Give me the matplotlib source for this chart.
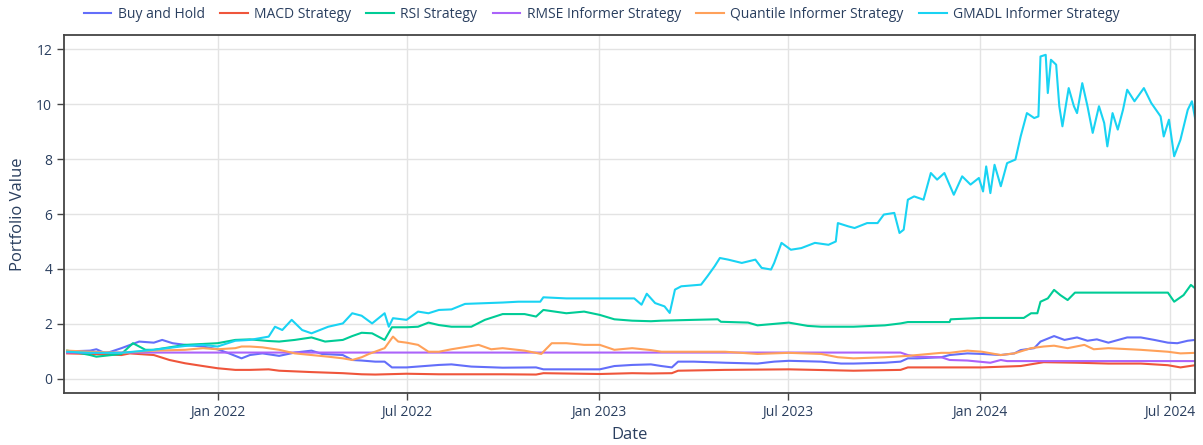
import numpy as np
import pandas as pd
import matplotlib
matplotlib.use('Agg')
import matplotlib.pyplot as plt
import matplotlib.dates as mdates

plt.rcParams['font.family'] = ['Open Sans', 'DejaVu Sans']

# values
bh_dates = ['2021-08-10', '2021-09-01', '2021-09-07', '2021-09-16', '2021-10-01', '2021-10-18', '2021-11-01',
            '2021-11-09', '2021-11-19', '2021-12-01', '2021-12-18', '2022-01-01', '2022-01-12', '2022-01-24',
            '2022-02-01', '2022-02-13', '2022-03-01', '2022-03-16', '2022-04-01', '2022-04-11', '2022-05-01',
            '2022-05-10', '2022-05-19', '2022-06-01', '2022-06-10', '2022-06-17', '2022-07-01', '2022-08-01',
            '2022-08-13', '2022-09-01', '2022-10-01', '2022-11-02', '2022-11-09', '2022-12-01', '2023-01-02',
            '2023-01-16', '2023-02-02', '2023-02-20', '2023-03-02', '2023-03-12', '2023-03-18', '2023-04-02',
            '2023-05-02', '2023-06-02', '2023-06-18', '2023-07-02', '2023-08-02', '2023-08-21', '2023-09-02',
            '2023-10-02', '2023-10-17', '2023-10-24', '2023-11-02', '2023-11-25', '2023-12-03', '2023-12-20',
            '2024-01-03', '2024-01-21', '2024-02-03', '2024-02-09', '2024-02-22', '2024-02-28', '2024-03-12',
            '2024-03-22', '2024-04-03', '2024-04-13', '2024-04-22', '2024-05-03', '2024-05-21', '2024-06-03',
            '2024-06-16', '2024-06-29', '2024-07-08', '2024-07-18', '2024-07-25']
bh_values = [1.00, 1.03, 1.08, 0.93, 1.12, 1.36, 1.32, 1.42, 1.30, 1.24, 1.18, 1.08, 0.93, 0.75,
             0.87, 0.93, 0.84, 0.96, 1.03, 0.91, 0.87, 0.69, 0.67, 0.63, 0.63, 0.42, 0.42, 0.51,
             0.53, 0.45, 0.41, 0.42, 0.35, 0.35, 0.35, 0.47, 0.51, 0.53, 0.47, 0.42, 0.63, 0.63,
             0.59, 0.56, 0.63, 0.66, 0.63, 0.56, 0.56, 0.59, 0.63, 0.75, 0.75, 0.79, 0.87, 0.93,
             0.91, 0.87, 0.93, 1.05, 1.12, 1.36, 1.56, 1.42, 1.51, 1.39, 1.44, 1.32, 1.51, 1.51,
             1.42, 1.32, 1.30, 1.39, 1.42]

macd_dates = ['2021-08-10', '2021-09-01', '2021-10-01', '2021-10-09', '2021-11-01', '2021-11-16', '2021-12-01',
              '2021-12-18', '2022-01-01', '2022-01-18', '2022-02-01', '2022-02-19', '2022-03-01', '2022-04-01',
              '2022-05-01', '2022-05-19', '2022-06-01', '2022-07-01', '2022-08-01', '2022-10-01', '2022-11-02',
              '2022-11-09', '2023-01-02', '2023-02-02', '2023-02-20', '2023-03-12', '2023-03-18', '2023-05-02',
              '2023-07-02', '2023-09-02', '2023-10-17', '2023-10-24', '2023-11-25', '2024-01-03', '2024-02-09',
              '2024-03-02', '2024-04-03', '2024-05-03', '2024-06-03', '2024-06-29', '2024-07-11', '2024-07-25']
macd_values = [0.93, 0.91, 0.87, 0.93, 0.87, 0.69, 0.57, 0.47, 0.39, 0.33, 0.33, 0.35, 0.30, 0.25,
               0.21, 0.17, 0.16, 0.19, 0.17, 0.17, 0.16, 0.21, 0.18, 0.21, 0.20, 0.21, 0.30, 0.33,
               0.35, 0.30, 0.33, 0.42, 0.42, 0.42, 0.47, 0.61, 0.59, 0.56, 0.56, 0.50, 0.42, 0.50]

rsi_dates = ['2021-08-10', '2021-09-01', '2021-09-07', '2021-10-01', '2021-10-12', '2021-10-15', '2021-10-24',
             '2021-11-01', '2021-12-01', '2022-01-01', '2022-01-18', '2022-02-01', '2022-02-19', '2022-03-01',
             '2022-03-16', '2022-04-01', '2022-04-14', '2022-05-01', '2022-05-10', '2022-05-19', '2022-05-29',
             '2022-06-10', '2022-06-17', '2022-07-01', '2022-07-12', '2022-07-22', '2022-08-01', '2022-08-13',
             '2022-09-01', '2022-09-14', '2022-10-01', '2022-10-22', '2022-11-02', '2022-11-09', '2022-12-01',
             '2022-12-18', '2023-01-02', '2023-01-16', '2023-02-02', '2023-02-20', '2023-03-02', '2023-04-02',
             '2023-04-25', '2023-04-28', '2023-05-24', '2023-06-02', '2023-07-02', '2023-07-20', '2023-08-02',
             '2023-09-02', '2023-10-02', '2023-10-17', '2023-10-24', '2023-12-03', '2023-12-04', '2024-01-03',
             '2024-02-12', '2024-02-19', '2024-02-25', '2024-02-28', '2024-03-06', '2024-03-12', '2024-03-18',
             '2024-03-25', '2024-04-01', '2024-06-29', '2024-07-05', '2024-07-14', '2024-07-21', '2024-07-25']
rsi_values = [1.03, 0.87, 0.81, 0.91, 1.30, 1.24, 1.06, 1.06, 1.24, 1.30, 1.42, 1.44, 1.38, 1.36,
              1.42, 1.51, 1.36, 1.42, 1.56, 1.68, 1.66, 1.42, 1.88, 1.88, 1.90, 2.05, 1.96, 1.90,
              1.90, 2.15, 2.36, 2.36, 2.27, 2.51, 2.39, 2.45, 2.33, 2.17, 2.12, 2.10, 2.12, 2.15,
              2.17, 2.08, 2.05, 1.95, 2.05, 1.93, 1.90, 1.90, 1.95, 2.02, 2.07, 2.07, 2.17, 2.22,
              2.22, 2.39, 2.39, 2.81, 2.93, 3.24, 3.05, 2.87, 3.14, 3.14, 2.81, 3.05, 3.42, 3.30]

rmse_dates = ['2021-08-10', '2023-10-17', '2023-10-24', '2023-11-02', '2023-11-25', '2023-12-03', '2023-12-20',
              '2024-01-11', '2024-01-21', '2024-01-27', '2024-07-25']
rmse_values = [0.96, 0.96, 0.87, 0.81, 0.79, 0.69, 0.67, 0.59, 0.69, 0.65, 0.65]

quant_dates = ['2021-08-10', '2021-09-01', '2021-10-01', '2021-11-01', '2021-12-01', '2021-12-18', '2022-01-01',
               '2022-01-18', '2022-01-24', '2022-02-01', '2022-02-13', '2022-03-01', '2022-03-16', '2022-04-01',
               '2022-04-17', '2022-05-01', '2022-05-10', '2022-05-19', '2022-05-26', '2022-06-10', '2022-06-18',
               '2022-06-23', '2022-07-01', '2022-07-12', '2022-07-22', '2022-08-01', '2022-08-13', '2022-09-08',
               '2022-09-20', '2022-10-01', '2022-10-22', '2022-11-07', '2022-11-17', '2022-12-01', '2022-12-18',
               '2023-01-02', '2023-01-16', '2023-02-02', '2023-02-20', '2023-03-02', '2023-04-02', '2023-05-02',
               '2023-06-02', '2023-07-02', '2023-08-02', '2023-08-18', '2023-09-02', '2023-10-02', '2023-10-24',
               '2023-11-25', '2023-12-03', '2023-12-20', '2024-01-03', '2024-01-21', '2024-02-03', '2024-02-19',
               '2024-03-02', '2024-03-12', '2024-03-25', '2024-04-10', '2024-04-19', '2024-05-03', '2024-06-03',
               '2024-06-29', '2024-07-11', '2024-07-25']
quant_values = [1.03, 0.99, 0.95, 1.03, 1.06, 1.12, 1.08, 1.12, 1.18, 1.18, 1.15, 1.06, 0.93, 0.87,
                0.81, 0.75, 0.69, 0.79, 0.91, 1.12, 1.54, 1.36, 1.32, 1.24, 0.99, 0.99, 1.08, 1.24,
                1.08, 1.12, 1.03, 0.91, 1.30, 1.30, 1.24, 1.24, 1.06, 1.12, 1.05, 0.99, 0.99, 0.99,
                0.91, 0.95, 0.91, 0.79, 0.75, 0.79, 0.84, 0.95, 0.95, 1.03, 0.99, 0.87, 0.93, 1.12,
                1.18, 1.21, 1.12, 1.24, 1.08, 1.12, 1.06, 0.99, 0.93, 0.95]

gmadl_dates = ['2021-08-10', '2021-09-01', '2021-10-01', '2021-11-01', '2021-12-01', '2021-12-18', '2022-01-01',
               '2022-01-18', '2022-02-01', '2022-02-19', '2022-02-25', '2022-03-04', '2022-03-13', '2022-03-23',
               '2022-04-01', '2022-04-17', '2022-05-01', '2022-05-10', '2022-05-19', '2022-05-29', '2022-06-10',
               '2022-06-14', '2022-06-18', '2022-07-01', '2022-07-12', '2022-07-22', '2022-08-01', '2022-08-13',
               '2022-08-26', '2022-10-01', '2022-10-16', '2022-11-06', '2022-11-09', '2022-12-01', '2023-01-02',
               '2023-02-04', '2023-02-11', '2023-02-16', '2023-02-24', '2023-03-05', '2023-03-10', '2023-03-15',
               '2023-03-21', '2023-04-09', '2023-04-15', '2023-04-22', '2023-04-27', '2023-05-05', '2023-05-18',
               '2023-05-31', '2023-06-06', '2023-06-15', '2023-06-18', '2023-06-25', '2023-07-04', '2023-07-14',
               '2023-07-27', '2023-08-09', '2023-08-16', '2023-08-18', '2023-08-28', '2023-09-03', '2023-09-15',
               '2023-09-25', '2023-10-01', '2023-10-11', '2023-10-16', '2023-10-20', '2023-10-24', '2023-10-30',
               '2023-11-08', '2023-11-15', '2023-11-21', '2023-11-28', '2023-12-07', '2023-12-15', '2023-12-23',
               '2023-12-31', '2024-01-04', '2024-01-07', '2024-01-11', '2024-01-15', '2024-01-21', '2024-01-27',
               '2024-02-04', '2024-02-09', '2024-02-15', '2024-02-22', '2024-02-26', '2024-02-28', '2024-03-04',
               '2024-03-06', '2024-03-09', '2024-03-14', '2024-03-17', '2024-03-20', '2024-03-26', '2024-03-31',
               '2024-04-03', '2024-04-08', '2024-04-13', '2024-04-18', '2024-04-24', '2024-04-29', '2024-05-02',
               '2024-05-07', '2024-05-12', '2024-05-17', '2024-05-21', '2024-05-28', '2024-06-06', '2024-06-13',
               '2024-06-22', '2024-06-25', '2024-06-30', '2024-07-05', '2024-07-11', '2024-07-18', '2024-07-22',
               '2024-07-25']
gmadl_values = [0.99, 0.95, 0.95, 1.06, 1.20, 1.24, 1.18, 1.39, 1.42, 1.54, 1.90, 1.78, 2.15, 1.78,
                1.66, 1.90, 2.02, 2.39, 2.30, 2.02, 2.39, 1.90, 2.21, 2.15, 2.45, 2.39, 2.51, 2.53,
                2.73, 2.78, 2.81, 2.81, 2.97, 2.93, 2.93, 2.93, 2.70, 3.10, 2.76, 2.64, 2.40, 3.25,
                3.37, 3.43, 3.73, 4.10, 4.40, 4.34, 4.22, 4.34, 4.04, 3.98, 4.22, 4.95, 4.70, 4.76,
                4.95, 4.88, 5.00, 5.67, 5.55, 5.49, 5.67, 5.67, 5.98, 6.04, 5.31, 5.43, 6.52, 6.64,
                6.52, 7.49, 7.25, 7.49, 6.70, 7.37, 7.07, 7.31, 6.82, 7.73, 6.76, 7.79, 7.01, 7.85,
                7.98, 8.82, 9.67, 9.49, 9.55, 11.73, 11.79, 10.40, 11.61, 11.43, 9.92, 9.19, 10.58, 9.92,
                9.67, 10.76, 9.92, 8.95, 9.92, 9.31, 8.46, 9.67, 9.07, 9.79, 10.52, 10.10, 10.58, 10.04,
                9.55, 8.82, 9.43, 8.10, 8.70, 9.79, 10.10, 9.49]

series = [
    ('Buy and Hold', bh_dates, bh_values, '#636EFA'),
    ('MACD Strategy', macd_dates, macd_values, '#EF553B'),
    ('RSI Strategy', rsi_dates, rsi_values, '#00CC96'),
    ('RMSE Informer Strategy', rmse_dates, rmse_values, '#AB63FA'),
    ('Quantile Informer Strategy', quant_dates, quant_values, '#FFA15A'),
    ('GMADL Informer Strategy', gmadl_dates, gmadl_values, '#19D3F3'),
]

fig = plt.figure(figsize=(12.03, 4.45), dpi=100)
ax = fig.add_axes([0.0532, 0.1169, 0.9402, 0.8044])

for name, d, v, c in series:
    ax.plot(pd.to_datetime(d), v, color=c, lw=1.5, label=name)

ax.set_xlim(pd.Timestamp('2021-08-07'), pd.Timestamp('2024-07-25'))
ax.set_ylim(-0.51, 12.51)
ax.set_yticks(np.arange(0, 13, 2))
ax.xaxis.set_major_locator(mdates.MonthLocator(bymonth=[1, 7]))
ax.xaxis.set_major_formatter(mdates.DateFormatter('%b %Y'))

ax.grid(True, color='#e3e3e3', lw=1)
ax.set_axisbelow(True)
for s in ax.spines.values():
    s.set_color('#444444')
    s.set_linewidth(1.3)
ax.tick_params(colors='#444444', labelcolor='#2a3f5f', labelsize=10, length=5, width=1)

ax.set_xlabel('Date', fontsize=12, color='#2a3f5f', labelpad=5)
ax.set_ylabel('Portfolio Value', fontsize=12, color='#2a3f5f', labelpad=7)

fig.legend(loc='upper center', bbox_to_anchor=(0.5, 1.012), ncol=6, frameon=False,
           fontsize=10, handlelength=2.0, columnspacing=1.1, handletextpad=0.45,
           labelcolor='#2a3f5f')

fig.savefig('out.png', dpi=100)
